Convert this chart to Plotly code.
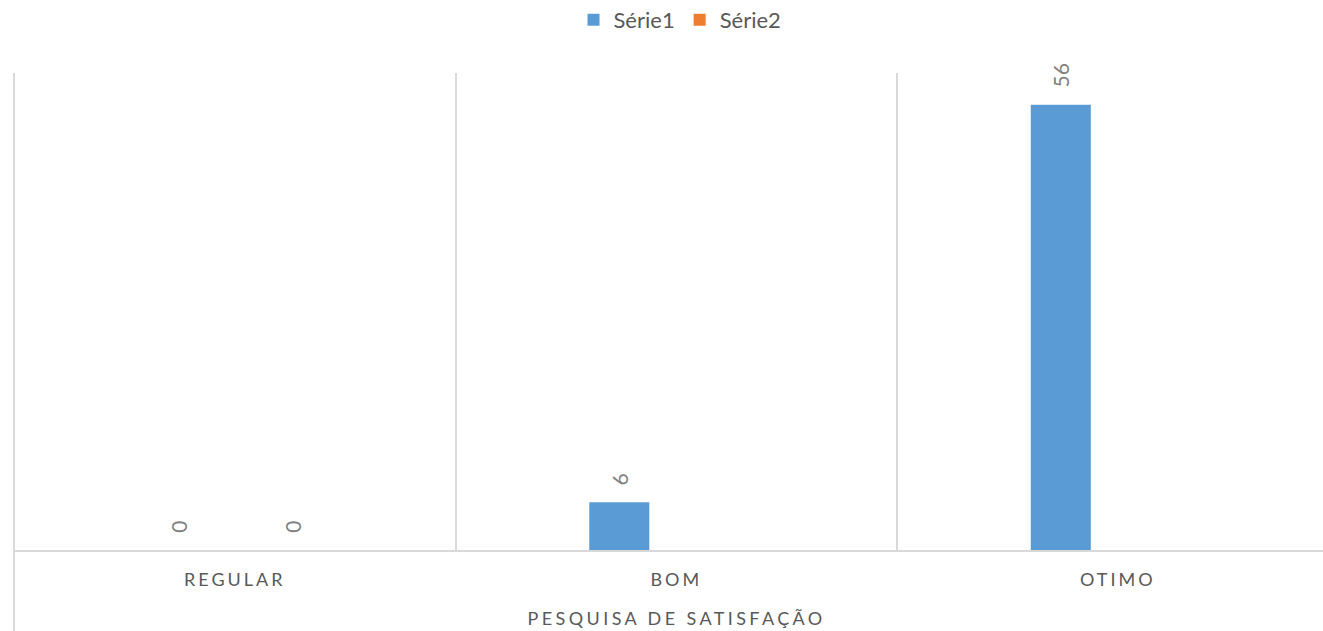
import plotly.graph_objects as go

categories = ["REGULAR", "BOM", "OTIMO"]
serie1 = [0, 6, 56]
serie2 = [0, None, None]
series_names = ["Série1", "Série2"]
series_colors = ["#5B9BD5", "#ED7D31"]
axis_title = "PESQUISA DE SATISFAÇÃO"

W, H = 1323, 631
ML, MR, MT, MB = 14, 0, 73, 81
cat_px = 441.5
plot_w = W - ML - MR
plot_h = H - MT - MB
x_right = -0.5 + plot_w / cat_px

FONT = "Lato, 'Open Sans', sans-serif"

fig = go.Figure()
for name, vals, col in zip(series_names, [serie1, serie2], series_colors):
    fig.add_trace(go.Bar(name=name, x=categories, y=vals, marker_color=col,
                         marker_line_width=0))

# data labels
offset_px = 57
for si, vals in enumerate([serie1, serie2]):
    shift = -offset_px if si == 0 else offset_px
    for c, v in zip(categories, vals):
        if v is None:
            continue
        fig.add_annotation(x=c, y=v, xref="x", yref="y", text=str(v),
                           showarrow=False, textangle=-90, xshift=shift,
                           yanchor="bottom", yshift=15,
                           font=dict(family=FONT, size=21, color="#808080"))

# axis title as annotation (centered on the full category span)
fig.add_annotation(x=1, y=-68 / plot_h, xref="x", yref="paper", text=axis_title,
                   showarrow=False, yanchor="middle",
                   font=dict(family=FONT, size=18, color="#595959"))

# left border line extending to bottom
fig.add_shape(type="line", xref="paper", yref="paper", x0=0, x1=0,
              y0=1, y1=-MB / plot_h, line=dict(color="#d9d9d9", width=2))

fig.update_layout(
    width=W, height=H,
    margin=dict(l=ML, r=MR, t=MT, b=MB, autoexpand=False),
    paper_bgcolor="white", plot_bgcolor="white",
    barmode="group", bargap=0.484, bargroupgap=0.473,
    font=dict(family=FONT, color="#595959"),
    legend=dict(orientation="h", x=(680 - ML) / plot_w, xanchor="center",
                y=1 + 53 / plot_h, yanchor="middle",
                font=dict(family=FONT, size=22, color="#595959"),
                itemwidth=30),
    showlegend=True,
)
fig.update_xaxes(range=[-0.5, x_right], tickson="boundaries", showgrid=True,
                 gridcolor="#d9d9d9", gridwidth=2, showline=True,
                 linecolor="#d9d9d9", linewidth=2, ticks="",
                 ticklabelstandoff=12,
                 tickfont=dict(family=FONT, size=18, color="#595959"),
                 zeroline=False, fixedrange=True)
fig.update_yaxes(range=[0, 60], showgrid=False, showticklabels=False,
                 zeroline=False, showline=False, fixedrange=True)

post = """
document.body.style.margin = '0';
document.body.style.overflow = 'hidden';
var st = document.createElement('style');
st.textContent = '.xtick text { letter-spacing: 3px; }';
document.head.appendChild(st);
document.querySelectorAll('.annotation-text').forEach(function(t){
  if (t.textContent.length > 5) { t.style.letterSpacing = '3.4px'; }
});
"""
fig.write_html("out.html", post_script=post, config={"displayModeBar": False})
